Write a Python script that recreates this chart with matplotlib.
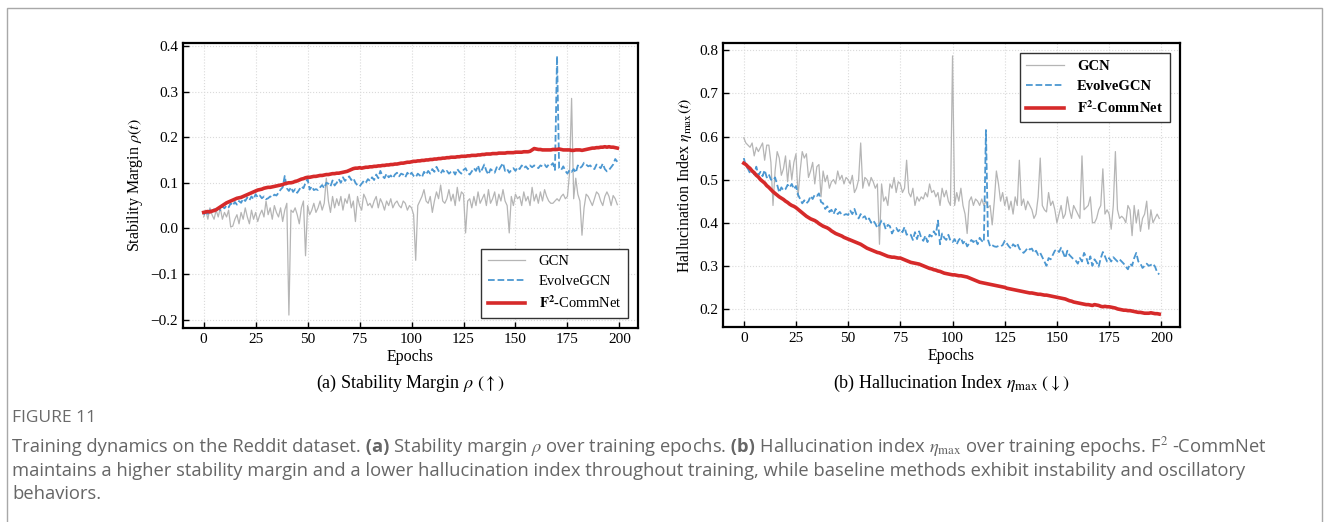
import numpy as np
import matplotlib
matplotlib.use('Agg')
import matplotlib.pyplot as plt
from matplotlib.patches import Rectangle

# ---- data ----
epochs = np.arange(200)

gcn_rho = [
    0.025, 0.040, 0.020, 0.045, 0.030, 0.020, 0.040, 0.025, 0.045, 0.020,
    0.035, 0.025, 0.040, 0.003, 0.005, 0.020, 0.030, 0.010, 0.035, 0.020,
    0.045, 0.025, 0.010, 0.040, 0.020, 0.035, 0.015, 0.030, 0.040, 0.025,
    0.060, 0.030, 0.045, 0.020, 0.050, 0.035, 0.025, 0.045, 0.015, 0.040,
    0.055, -0.190, 0.040, 0.035, 0.045, 0.030, 0.010, 0.045, 0.060, -0.060,
    0.050, 0.030, 0.040, 0.055, 0.035, 0.045, 0.060, 0.040, 0.055, 0.110,
    0.060, 0.035, 0.070, 0.045, 0.065, 0.050, 0.070, 0.040, 0.065, 0.055,
    0.075, 0.045, 0.060, 0.015, 0.070, 0.050, 0.040, 0.075, 0.065, 0.050,
    0.055, 0.045, 0.060, 0.070, 0.045, 0.065, 0.055, 0.040, 0.060, 0.050,
    0.065, 0.045, 0.055, 0.060, 0.050, 0.045, 0.060, 0.055, 0.040, 0.050,
    0.045, 0.030, -0.070, 0.050, 0.060, 0.070, 0.085, 0.060, 0.055, 0.070,
    0.035, 0.060, 0.080, 0.065, 0.095, 0.060, 0.055, 0.065, 0.085, 0.060,
    0.075, 0.050, 0.090, 0.060, 0.080, 0.075, -0.010, 0.060, 0.065, 0.045,
    0.070, 0.050, 0.080, 0.055, 0.065, 0.075, 0.050, 0.085, 0.055, 0.065,
    0.080, 0.050, 0.075, 0.060, 0.085, 0.060, 0.050, -0.010, 0.070, 0.050,
    0.075, 0.065, 0.070, 0.050, 0.080, 0.060, 0.070, 0.050, 0.090, 0.060,
    0.075, 0.055, 0.080, 0.060, 0.085, 0.070, 0.060, 0.055, 0.055, 0.060,
    0.065, 0.060, 0.070, 0.075, 0.065, 0.070, 0.120, 0.285, 0.065, 0.110,
    0.075, 0.060, -0.015, 0.045, 0.075, 0.070, 0.060, 0.050, 0.065, 0.080,
    0.075, 0.060, 0.050, 0.070, 0.080, 0.070, 0.050, 0.072, 0.065, 0.052,
]

evolve_rho = [
    0.030, 0.035, 0.032, 0.040, 0.036, 0.042, 0.038, 0.045, 0.040, 0.048,
    0.044, 0.050, 0.046, 0.055, 0.050, 0.058, 0.052, 0.060, 0.056, 0.065,
    0.060, 0.068, 0.062, 0.070, 0.064, 0.075, 0.068, 0.072, 0.066, 0.070,
    0.064, 0.066, 0.070, 0.068, 0.074, 0.072, 0.078, 0.085, 0.090, 0.115,
    0.088, 0.082, 0.090, 0.080, 0.086, 0.078, 0.085, 0.092, 0.088, 0.100,
    0.108, 0.085, 0.092, 0.084, 0.086, 0.084, 0.090, 0.095, 0.088, 0.100,
    0.098, 0.092, 0.105, 0.094, 0.100, 0.108, 0.100, 0.112, 0.104, 0.110,
    0.114, 0.106, 0.110, 0.100, 0.094, 0.092, 0.098, 0.104, 0.100, 0.108,
    0.104, 0.112, 0.106, 0.118, 0.110, 0.126, 0.115, 0.110, 0.120, 0.112,
    0.116, 0.110, 0.118, 0.122, 0.114, 0.120, 0.118, 0.112, 0.122, 0.116,
    0.122, 0.115, 0.112, 0.120, 0.116, 0.112, 0.124, 0.118, 0.126, 0.120,
    0.130, 0.124, 0.135, 0.126, 0.120, 0.128, 0.122, 0.126, 0.120, 0.124,
    0.126, 0.118, 0.130, 0.124, 0.120, 0.128, 0.132, 0.122, 0.118, 0.125,
    0.132, 0.126, 0.138, 0.122, 0.130, 0.140, 0.126, 0.118, 0.130, 0.126,
    0.122, 0.134, 0.128, 0.136, 0.143, 0.126, 0.130, 0.122, 0.128, 0.132,
    0.126, 0.134, 0.130, 0.138, 0.132, 0.136, 0.130, 0.138, 0.134, 0.138,
    0.136, 0.132, 0.138, 0.136, 0.140, 0.134, 0.140, 0.138, 0.143, 0.128,
    0.378, 0.132, 0.128, 0.136, 0.126, 0.120, 0.128, 0.124, 0.130, 0.122,
    0.138, 0.132, 0.136, 0.144, 0.140, 0.136, 0.138, 0.132, 0.130, 0.140,
    0.136, 0.132, 0.142, 0.130, 0.125, 0.128, 0.134, 0.140, 0.152, 0.146,
]

f2_rho = [
    0.035, 0.036, 0.037, 0.036, 0.038, 0.039, 0.041, 0.044, 0.047, 0.050,
    0.053, 0.056, 0.058, 0.060, 0.062, 0.064, 0.066, 0.067, 0.068, 0.070,
    0.072, 0.074, 0.076, 0.078, 0.080, 0.082, 0.084, 0.085, 0.086, 0.088,
    0.089, 0.090, 0.090, 0.091, 0.092, 0.093, 0.094, 0.095, 0.096, 0.098,
    0.099, 0.100, 0.100, 0.101, 0.103, 0.104, 0.106, 0.108, 0.109, 0.111,
    0.112, 0.112, 0.113, 0.114, 0.114, 0.115, 0.116, 0.116, 0.117, 0.118,
    0.118, 0.119, 0.120, 0.120, 0.121, 0.121, 0.122, 0.123, 0.124, 0.125,
    0.127, 0.129, 0.131, 0.132, 0.132, 0.133, 0.132, 0.133, 0.134, 0.134,
    0.135, 0.135, 0.136, 0.136, 0.137, 0.137, 0.138, 0.138, 0.139, 0.139,
    0.140, 0.140, 0.141, 0.141, 0.142, 0.143, 0.143, 0.144, 0.145, 0.145,
    0.146, 0.147, 0.147, 0.148, 0.148, 0.149, 0.149, 0.150, 0.150, 0.151,
    0.151, 0.152, 0.152, 0.153, 0.153, 0.154, 0.154, 0.155, 0.155, 0.156,
    0.156, 0.156, 0.157, 0.157, 0.158, 0.158, 0.158, 0.159, 0.159, 0.160,
    0.160, 0.160, 0.161, 0.161, 0.162, 0.162, 0.163, 0.163, 0.163, 0.164,
    0.164, 0.164, 0.165, 0.165, 0.165, 0.165, 0.166, 0.166, 0.166, 0.166,
    0.167, 0.167, 0.167, 0.167, 0.168, 0.168, 0.168, 0.169, 0.172, 0.175,
    0.174, 0.173, 0.173, 0.172, 0.172, 0.172, 0.172, 0.172, 0.173, 0.173,
    0.173, 0.174, 0.173, 0.172, 0.172, 0.172, 0.172, 0.171, 0.171, 0.172,
    0.172, 0.172, 0.171, 0.172, 0.173, 0.174, 0.175, 0.176, 0.176, 0.177,
    0.177, 0.178, 0.178, 0.179, 0.178, 0.179, 0.178, 0.178, 0.177, 0.176,
]

gcn_eta = [
    0.597, 0.585, 0.580, 0.575, 0.585, 0.555, 0.575, 0.565, 0.575, 0.585,
    0.545, 0.580, 0.580, 0.540, 0.440, 0.520, 0.565, 0.550, 0.510, 0.525,
    0.555, 0.495, 0.545, 0.500, 0.540, 0.560, 0.460, 0.520, 0.565, 0.550,
    0.560, 0.505, 0.520, 0.540, 0.490, 0.530, 0.535, 0.460, 0.520, 0.495,
    0.510, 0.480, 0.495, 0.500, 0.490, 0.520, 0.500, 0.510, 0.490, 0.505,
    0.500, 0.490, 0.510, 0.470, 0.480, 0.500, 0.585, 0.480, 0.505, 0.500,
    0.485, 0.505, 0.495, 0.480, 0.490, 0.350, 0.490, 0.450, 0.460, 0.440,
    0.490, 0.480, 0.505, 0.470, 0.495, 0.490, 0.470, 0.480, 0.545, 0.470,
    0.460, 0.480, 0.440, 0.460, 0.450, 0.460, 0.455, 0.470, 0.460, 0.490,
    0.470, 0.475, 0.460, 0.470, 0.440, 0.480, 0.460, 0.475, 0.450, 0.440,
    0.787, 0.440, 0.470, 0.450, 0.480, 0.440, 0.420, 0.375, 0.450, 0.460,
    0.440, 0.455, 0.450, 0.440, 0.455, 0.440, 0.450, 0.435, 0.440, 0.395,
    0.450, 0.520, 0.490, 0.450, 0.470, 0.440, 0.460, 0.430, 0.450, 0.420,
    0.460, 0.440, 0.545, 0.440, 0.455, 0.430, 0.450, 0.440, 0.430, 0.410,
    0.420, 0.460, 0.550, 0.440, 0.430, 0.425, 0.470, 0.440, 0.450, 0.430,
    0.400, 0.420, 0.440, 0.410, 0.420, 0.460, 0.430, 0.410, 0.440, 0.430,
    0.420, 0.410, 0.555, 0.430, 0.435, 0.440, 0.460, 0.400, 0.400, 0.410,
    0.430, 0.440, 0.525, 0.420, 0.430, 0.420, 0.385, 0.440, 0.565, 0.430,
    0.410, 0.415, 0.410, 0.400, 0.440, 0.430, 0.370, 0.440, 0.400, 0.430,
    0.380, 0.410, 0.420, 0.450, 0.385, 0.430, 0.400, 0.410, 0.420, 0.410,
]

evolve_eta = [
    0.550, 0.532, 0.525, 0.515, 0.520, 0.512, 0.530, 0.510, 0.518, 0.508,
    0.522, 0.505, 0.512, 0.500, 0.498, 0.505, 0.488, 0.470, 0.482, 0.475,
    0.478, 0.488, 0.482, 0.490, 0.478, 0.485, 0.465, 0.455, 0.445, 0.452,
    0.445, 0.450, 0.462, 0.455, 0.465, 0.462, 0.468, 0.448, 0.445, 0.432,
    0.438, 0.425, 0.430, 0.420, 0.432, 0.420, 0.425, 0.418, 0.418, 0.420,
    0.418, 0.428, 0.420, 0.432, 0.418, 0.410, 0.420, 0.412, 0.415, 0.405,
    0.410, 0.400, 0.405, 0.398, 0.388, 0.395, 0.405, 0.400, 0.385, 0.395,
    0.392, 0.375, 0.385, 0.388, 0.380, 0.385, 0.378, 0.390, 0.372, 0.375,
    0.372, 0.360, 0.378, 0.362, 0.380, 0.365, 0.358, 0.370, 0.355, 0.372,
    0.368, 0.380, 0.372, 0.405, 0.350, 0.375, 0.365, 0.360, 0.372, 0.358,
    0.355, 0.362, 0.350, 0.360, 0.365, 0.352, 0.358, 0.345, 0.352, 0.360,
    0.355, 0.362, 0.350, 0.365, 0.358, 0.355, 0.615, 0.360, 0.345, 0.348,
    0.345, 0.344, 0.346, 0.345, 0.348, 0.358, 0.352, 0.345, 0.340, 0.350,
    0.345, 0.352, 0.340, 0.335, 0.330, 0.335, 0.342, 0.338, 0.340, 0.330,
    0.335, 0.325, 0.330, 0.320, 0.310, 0.300, 0.318, 0.315, 0.325, 0.335,
    0.338, 0.332, 0.342, 0.330, 0.318, 0.335, 0.325, 0.320, 0.315, 0.312,
    0.305, 0.318, 0.310, 0.330, 0.320, 0.305, 0.322, 0.300, 0.315, 0.308,
    0.298, 0.318, 0.332, 0.322, 0.310, 0.318, 0.310, 0.320, 0.315, 0.310,
    0.315, 0.310, 0.305, 0.298, 0.292, 0.305, 0.300, 0.318, 0.330, 0.310,
    0.305, 0.295, 0.300, 0.305, 0.300, 0.302, 0.305, 0.298, 0.285, 0.280,
]

f2_eta = [
    0.538, 0.535, 0.530, 0.526, 0.520, 0.516, 0.510, 0.506, 0.500, 0.496,
    0.492, 0.486, 0.482, 0.477, 0.472, 0.468, 0.464, 0.460, 0.457, 0.454,
    0.450, 0.447, 0.443, 0.440, 0.438, 0.435, 0.431, 0.427, 0.423, 0.419,
    0.415, 0.412, 0.409, 0.407, 0.405, 0.402, 0.398, 0.395, 0.392, 0.390,
    0.388, 0.385, 0.381, 0.378, 0.375, 0.373, 0.371, 0.369, 0.366, 0.364,
    0.362, 0.360, 0.358, 0.356, 0.354, 0.352, 0.350, 0.347, 0.344, 0.341,
    0.339, 0.337, 0.335, 0.333, 0.331, 0.330, 0.328, 0.326, 0.324, 0.322,
    0.321, 0.320, 0.320, 0.319, 0.318, 0.318, 0.316, 0.314, 0.312, 0.310,
    0.308, 0.307, 0.306, 0.305, 0.304, 0.302, 0.300, 0.298, 0.296, 0.294,
    0.293, 0.291, 0.290, 0.288, 0.287, 0.285, 0.283, 0.282, 0.281, 0.280,
    0.279, 0.279, 0.278, 0.277, 0.277, 0.276, 0.275, 0.274, 0.272, 0.270,
    0.268, 0.266, 0.264, 0.262, 0.261, 0.260, 0.259, 0.258, 0.257, 0.256,
    0.255, 0.254, 0.253, 0.252, 0.251, 0.250, 0.248, 0.247, 0.246, 0.245,
    0.244, 0.243, 0.242, 0.241, 0.240, 0.239, 0.238, 0.237, 0.237, 0.236,
    0.235, 0.234, 0.234, 0.233, 0.232, 0.232, 0.231, 0.230, 0.229, 0.228,
    0.227, 0.226, 0.225, 0.224, 0.223, 0.221, 0.219, 0.218, 0.216, 0.215,
    0.214, 0.213, 0.212, 0.211, 0.210, 0.210, 0.209, 0.208, 0.210, 0.209,
    0.208, 0.206, 0.205, 0.206, 0.205, 0.205, 0.204, 0.203, 0.202, 0.200,
    0.199, 0.198, 0.197, 0.197, 0.196, 0.196, 0.195, 0.194, 0.193, 0.192,
    0.192, 0.191, 0.190, 0.190, 0.190, 0.191, 0.190, 0.189, 0.189, 0.188,
]

labels = ['GCN', 'EvolveGCN', r'$\mathbf{F^2}$-CommNet']

plt.rcParams['font.family'] = ['Liberation Serif', 'DejaVu Serif']
plt.rcParams['mathtext.fontset'] = 'stix'

W, H = 1330, 522
fig = plt.figure(figsize=(W / 100, H / 100), dpi=100)

def px_axes(x0, y0, x1, y1):
    return fig.add_axes([x0 / W, 1 - y1 / H, (x1 - x0) / W, (y1 - y0) / H])

def style(ax):
    ax.grid(True, linestyle=':', color='#dadada', linewidth=0.8)
    ax.tick_params(direction='in', length=4, width=1, labelsize=11)
    for s in ax.spines.values():
        s.set_linewidth(1.6)
        s.set_color('black')
    ax.set_xticks([0, 25, 50, 75, 100, 125, 150, 175, 200])
    ax.set_xlabel('Epochs', fontsize=11.5, labelpad=2)

def draw(ax, gcn, evolve, f2):
    ax.plot(epochs, gcn, color='#b5b5b5', lw=0.9, label=labels[0])
    ax.plot(epochs, evolve, color='#4b97d1', lw=1.3, ls='--', label=labels[1])
    ax.plot(epochs, f2, color='#d62a2a', lw=2.6, label=labels[2])

leg_kw = dict(fancybox=False, framealpha=1, edgecolor='#333333',
              handlelength=2.6, handletextpad=0.9, borderpad=0.45,
              labelspacing=0.45, borderaxespad=0.7)

ax1 = px_axes(183, 43, 638, 328)
draw(ax1, gcn_rho, evolve_rho, f2_rho)
style(ax1)
ax1.set_ylabel(r'Stability Margin $\rho(t)$', fontsize=11.5, labelpad=4)
ax1.set_yticks([-0.2, -0.1, 0.0, 0.1, 0.2, 0.3, 0.4])
leg1 = ax1.legend(loc='lower right', prop={'size': 10.5}, **leg_kw)
leg1.get_frame().set_linewidth(1.0)

ax2 = px_axes(723, 43, 1180, 327)
draw(ax2, gcn_eta, evolve_eta, f2_eta)
style(ax2)
ax2.set_ylabel(r'Hallucination Index $\eta_{\mathrm{max}}(t)$', fontsize=11.5, labelpad=4)
ax2.set_yticks([0.2, 0.3, 0.4, 0.5, 0.6, 0.7, 0.8])
leg2 = ax2.legend(loc='upper right', prop={'weight': 'bold', 'size': 10.5}, **leg_kw)
leg2.get_frame().set_linewidth(1.0)

# sub captions
fig.text(410 / W, 1 - 383 / H, r'(a) Stability Margin $\rho$ $(\uparrow)$',
         ha='center', va='center', fontsize=13)
fig.text(951 / W, 1 - 383 / H, r'(b) Hallucination Index $\eta_{\mathrm{max}}$ $(\downarrow)$',
         ha='center', va='center', fontsize=13)

# figure caption block
sans = ['Open Sans', 'DejaVu Sans']
grey = '#666666'
fig.text(12 / W, 1 - 418 / H, 'FIGURE 11', ha='left', va='center', fontsize=12.5,
         family=sans, color='#6a6a6a')

renderer = fig.canvas.get_renderer()

def run_line(y_px, parts, size=13.2):
    x = 12 / W
    for txt, weight in parts:
        t = fig.text(x, 1 - y_px / H, txt, ha='left', va='center', fontsize=size,
                     family=sans, color=grey, fontweight=weight)
        bb = t.get_window_extent(renderer)
        x += bb.width / W

run_line(447, [
    ('Training dynamics on the Reddit dataset.', 'normal'),
    (' (a)', 'bold'),
    (r' Stability margin $\rho$ over training epochs.', 'normal'),
    (' (b)', 'bold'),
    (r' Hallucination index $\eta_{\mathrm{max}}$ over training epochs. F$^2$ -CommNet', 'normal'),
])
run_line(470.5, [('maintains a higher stability margin and a lower hallucination index throughout training, '
                  'while baseline methods exhibit instability and oscillatory', 'normal')])
run_line(494, [('behaviors.', 'normal')])

# light outer frame
fig.patches.append(Rectangle((7 / W, -0.05), (1322 - 7) / W, 1.05 - 8 / H,
                             transform=fig.transFigure, fill=False,
                             edgecolor='#a8a8a8', linewidth=1.0))

fig.savefig('out.png', dpi=100)
